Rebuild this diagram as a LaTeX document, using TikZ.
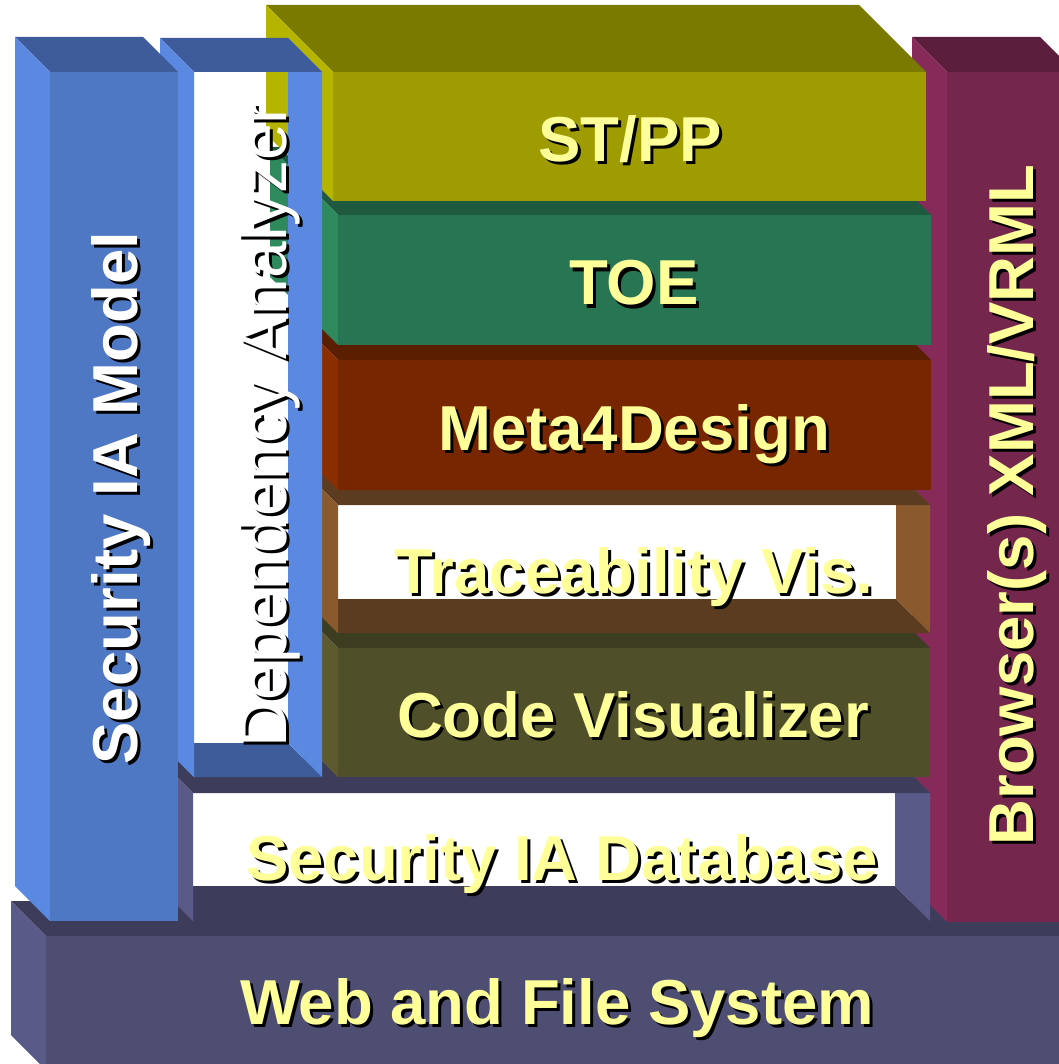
\documentclass[tikz,border=0pt]{standalone}
\usepackage{fontspec}
\setmainfont{Liberation Sans}

% face colours (front / top / side)
\definecolor{labelyellow}{HTML}{FFFF99}
\definecolor{basefront}{HTML}{4E4E72}
\definecolor{basetop}{HTML}{3D3C5A}
\definecolor{baseside}{HTML}{5A5A88}
\definecolor{brfront}{HTML}{75264D}
\definecolor{brtop}{HTML}{5C1E3D}
\definecolor{brside}{HTML}{862A5A}
\definecolor{cvfront}{HTML}{4F4F2A}
\definecolor{cvtop}{HTML}{3D3D22}
\definecolor{cvside}{HTML}{5E5A30}
\definecolor{trtop}{HTML}{5C3C20}
\definecolor{trside}{HTML}{8A5A2E}
\definecolor{mdfront}{HTML}{782600}
\definecolor{mdtop}{HTML}{5A1E00}
\definecolor{mdside}{HTML}{8A2E00}
\definecolor{toefront}{HTML}{277552}
\definecolor{toetop}{HTML}{1F5A40}
\definecolor{toeside}{HTML}{2E8A5C}
\definecolor{stfront}{HTML}{9E9C00}
\definecolor{sttop}{HTML}{7A7A00}
\definecolor{stside}{HTML}{B5B500}
\definecolor{blfront}{HTML}{4F78C4}
\definecolor{bltop}{HTML}{3E5C9A}
\definecolor{blside}{HTML}{5B88E0}

% text with a black drop shadow; #1 = shift along the text line
\newcommand{\shtext}[2][3pt]{\makebox[0pt][l]{\kern#1\raisebox{-3pt}{\color{black}#2}}#2}

\begin{document}
\begin{tikzpicture}[
    x=1pt, y=-1pt,
    % Style for the block labels
    lbl/.style={font=\fontsize{63.5}{64}\selectfont\bfseries, text=labelyellow,
        inner sep=0pt, anchor=base},
    side lbl/.style={lbl, rotate=90}
]
    \useasboundingbox (0,0) rectangle (1058,1064);

    % ==========================
    % Base: Web and File System
    % ==========================
    \fill[basetop] (11,901) -- (1100,901) -- (1100,936) -- (46,936) -- cycle;
    \fill[baseside] (11,901) -- (46,936) -- (46,1070) -- (11,1035) -- cycle;
    \fill[basefront] (46,936) rectangle (1100,1070);
    \node[lbl] (web) at (557,1024) {\shtext{Web and File System}};

    % ==========================
    % Right column: Browser(s)
    % ==========================
    \fill[brtop] (912,37) -- (1040,37) -- (1075,72) -- (947,72) -- cycle;
    \fill[brside] (912,37) -- (947,72) -- (947,922) -- (912,887) -- cycle;
    \fill[brfront] (947,72) rectangle (1075,922);
    \node[side lbl] (browser) at (1033,505) {\shtext[-3pt]{Browser(s) XML/VRML}};

    % ==========================
    % Open box: Security IA Database
    % ==========================
    \fill[basetop] (158,886) -- (895,886) -- (930,921) -- (193,921) -- cycle; % floor
    \fill[baseside] (895,758) -- (930,793) -- (930,921) -- (895,886) -- cycle; % inner wall
    \fill[basetop] (158,758) -- (895,758) -- (930,793) -- (193,793) -- cycle;
    \fill[baseside] (158,758) -- (193,793) -- (193,921) -- (158,886) -- cycle;
    \node[lbl] (database) at (562,880) {\shtext{Security IA Database}};

    % ==========================
    % Code Visualizer
    % ==========================
    \fill[cvtop] (303,613) -- (895,613) -- (930,648) -- (338,648) -- cycle;
    \fill[cvside] (303,613) -- (338,648) -- (338,777) -- (303,742) -- cycle;
    \fill[cvfront] (338,648) rectangle (930,777);
    \node[lbl] (codeviz) at (633,737) {\shtext{Code Visualizer}};

    % ==========================
    % Open box: Traceability Vis.
    % ==========================
    \fill[trtop] (304,599) -- (896,599) -- (930,633) -- (338,633) -- cycle; % floor
    \fill[trside] (896,471) -- (930,505) -- (930,633) -- (896,599) -- cycle; % inner wall
    \fill[trtop] (304,471) -- (896,471) -- (930,505) -- (338,505) -- cycle;
    \fill[trside] (304,471) -- (338,505) -- (338,633) -- (304,599) -- cycle;
    \node[lbl] (trace) at (634,593) {\shtext{Traceability Vis.}};

    % ==========================
    % Meta4Design
    % ==========================
    \fill[mdtop] (303,325) -- (896,325) -- (931,360) -- (338,360) -- cycle;
    \fill[mdside] (303,325) -- (338,360) -- (338,490) -- (303,455) -- cycle;
    \fill[mdfront] (338,360) rectangle (931,490);
    \node[lbl] (meta) at (634,450) {\shtext{Meta4Design}};

    % ==========================
    % TOE (deeper block)
    % ==========================
    \fill[toetop] (270,147) -- (863,147) -- (931,215) -- (338,215) -- cycle;
    \fill[toeside] (270,147) -- (338,215) -- (338,345) -- (270,277) -- cycle;
    \fill[toefront] (338,215) rectangle (931,345);
    \node[lbl] (toe) at (634,305) {\shtext{TOE}};

    % ==========================
    % ST/PP (deeper block)
    % ==========================
    \fill[sttop] (266,5) -- (859,5) -- (926,72) -- (333,72) -- cycle;
    \fill[stside] (266,5) -- (333,72) -- (333,201) -- (266,134) -- cycle;
    \fill[stfront] (333,72) rectangle (926,201);
    \node[lbl] (stpp) at (630,162) {\shtext{ST/PP}};

    % ==========================
    % Open column: Dependency Analyzer
    % ==========================
    \fill[bltop] (160,743) -- (288,743) -- (322,777) -- (194,777) -- cycle; % floor
    \fill[blside] (288,38) -- (322,72) -- (322,777) -- (288,743) -- cycle; % inner wall
    \fill[bltop] (160,38) -- (288,38) -- (322,72) -- (194,72) -- cycle;
    \fill[blside] (160,38) -- (194,72) -- (194,777) -- (160,743) -- cycle;
    \node[side lbl, font=\fontsize{66}{66}\selectfont, text=white]
        (dep) at (286,425) {\shtext[-3pt]{Dependency Analyzer}};

    % ==========================
    % Left column: Security IA Model
    % ==========================
    \fill[bltop] (15,37) -- (143,37) -- (178,72) -- (50,72) -- cycle;
    \fill[blside] (15,37) -- (50,72) -- (50,921) -- (15,886) -- cycle;
    \fill[blfront] (50,72) rectangle (178,921);
    \node[side lbl, text=white] (model) at (137,498) {\shtext[-3pt]{Security IA Model}};

\end{tikzpicture}
\end{document}
